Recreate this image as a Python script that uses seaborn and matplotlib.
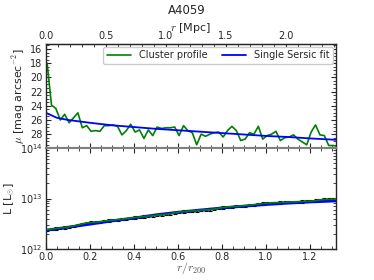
import numpy as np
import pandas as pd
import seaborn as sns
import matplotlib.pyplot as plt
from matplotlib.ticker import AutoMinorLocator, LogLocator, NullFormatter

# cluster profile, sampled every 0.02 r200
r_start = 0.005
r_step = 0.02
mu_profile = [18.0, 23.9, 24.4, 26.0, 25.2, 26.4, 25.7, 25.0, 27.1, 26.8,
              27.6, 27.5, 27.6, 26.8, 26.8, 26.7, 26.9, 28.1, 27.5, 26.6,
              27.7, 27.4, 28.6, 27.4, 28.2, 27.0, 27.2, 27.1, 27.1, 27.0,
              28.2, 26.8, 27.5, 27.8, 29.5, 28.0, 28.3, 28.0, 27.8, 27.7,
              28.4, 27.5, 26.9, 27.5, 28.9, 28.7, 27.8, 28.0, 26.9, 28.7,
              28.2, 28.0, 27.6, 28.9, 28.5, 28.4, 28.1, 28.7, 29.1, 29.5,
              27.7, 26.7, 28.1, 28.2, 29.6, 29.6, 29.7]
# cumulative luminosity [1e12 Lsun]
L_profile = [2.40, 2.47, 2.55, 2.62, 2.68, 2.75, 2.85, 3.00, 3.15, 3.28,
             3.35, 3.40, 3.48, 3.58, 3.66, 3.74, 3.82, 3.90, 4.00, 4.10,
             4.22, 4.30, 4.40, 4.46, 4.55, 4.65, 4.74, 4.85, 5.00, 5.20,
             5.40, 5.52, 5.62, 5.70, 5.78, 5.85, 5.95, 6.05, 6.20, 6.40,
             6.65, 6.78, 6.90, 7.00, 7.10, 7.22, 7.38, 7.55, 7.75, 7.95,
             8.10, 8.20, 8.28, 8.35, 8.42, 8.50, 8.58, 8.65, 8.72, 8.80,
             8.85, 9.10, 9.40, 9.55, 9.62, 9.68, 9.72]
L_err_frac = 0.05

# single Sersic fit
fit_r = [0.0, 0.05, 0.1, 0.2, 0.3, 0.4, 0.5, 0.6, 0.7, 0.8, 0.9, 1.0, 1.1, 1.2, 1.32]
fit_mu = [25.0, 25.7, 26.0, 26.4, 26.75, 27.0, 27.25, 27.45, 27.65, 27.85,
          28.05, 28.25, 28.4, 28.6, 28.8]
fit_L = [2.35, 2.52, 2.7, 3.1, 3.6, 4.1, 4.75, 5.35, 5.9, 6.5, 7.05, 7.6,
         8.1, 8.55, 8.95]

r200_mpc = 1.836

prof = pd.DataFrame({'r': np.round(r_start + r_step * np.arange(len(mu_profile)), 3),
                     'mu': mu_profile,
                     'L': np.array(L_profile) * 1e12})
fit = pd.DataFrame({'r': fit_r, 'mu': fit_mu, 'L': np.array(fit_L) * 1e12})

sns.set_style('ticks')
plt.rcParams['font.family'] = ['DejaVu Sans']
plt.rcParams['mathtext.fontset'] = 'cm'
plt.rcParams['xtick.direction'] = 'in'
plt.rcParams['ytick.direction'] = 'in'
plt.rcParams['xtick.labelsize'] = 7
plt.rcParams['ytick.labelsize'] = 7
plt.rcParams['xtick.major.pad'] = 2
plt.rcParams['ytick.major.pad'] = 2.5

fig = plt.figure(figsize=(3.74, 2.8), dpi=100)
W, H = 374.0, 280.0
x0, x1 = 46 / W, 336 / W
ax1 = fig.add_axes([x0, 1 - 148 / H, x1 - x0, 104 / H])
ax2 = fig.add_axes([x0, 1 - 249 / H, x1 - x0, 101 / H], sharex=ax1)

# top: surface brightness
sns.lineplot(ax=ax1, data=prof, x='r', y='mu', color='green', lw=1.2,
             sort=False, estimator=None, label='Cluster profile')
sns.lineplot(ax=ax1, data=fit, x='r', y='mu', color='blue', lw=1.3,
             sort=False, estimator=None, label='Single Sersic fit')
ax1.set_ylim(29.95, 15.3)
ax1.set_yticks([16, 18, 20, 22, 24, 26, 28])
ax1.set_ylabel(r'$\mu$ [mag arcsec$^{-2}$]', fontsize=8, labelpad=2)
ax1.set_xlabel('')
ax1.tick_params(axis='x', labelbottom=False, top=False)
ax1.tick_params(axis='y', right=True)
ax1.yaxis.set_minor_locator(AutoMinorLocator(4))
ax1.xaxis.set_minor_locator(AutoMinorLocator(4))
ax1.tick_params(which='minor', right=True, length=2)
ax1.legend(loc='upper right', ncol=2, fontsize=7, handlelength=2.5,
           borderpad=0.35, columnspacing=1.5, borderaxespad=0.3, framealpha=1)

sec = ax1.secondary_xaxis('top', functions=(lambda x: x * r200_mpc, lambda x: x / r200_mpc))
sec.set_xlabel(r'$r$ [Mpc]', fontsize=8, labelpad=0.5)
sec.xaxis.set_minor_locator(AutoMinorLocator(5))
sec.tick_params(which='minor', length=2)
sec.tick_params(which='major', pad=2)

# bottom: cumulative luminosity
ax2.errorbar(prof['r'], prof['L'], yerr=prof['L'] * L_err_frac, fmt='none',
             ecolor='black', elinewidth=0.8, capsize=1.5, capthick=0.8, zorder=2)
sns.lineplot(ax=ax2, data=fit, x='r', y='L', color='blue', lw=2.0,
             sort=False, estimator=None, zorder=3)
sns.lineplot(ax=ax2, data=prof, x='r', y='L', color='green', lw=1.2,
             sort=False, estimator=None, zorder=4)
ax2.set_yscale('log')
ax2.set_ylim(1e12, 1e14)
ax2.set_xlim(0, 1.318)
ax2.set_xticks([0.0, 0.2, 0.4, 0.6, 0.8, 1.0, 1.2])
ax2.xaxis.set_minor_locator(AutoMinorLocator(4))
ax2.yaxis.set_minor_locator(LogLocator(subs=np.arange(2, 10)))
ax2.yaxis.set_minor_formatter(NullFormatter())
ax2.tick_params(axis='both', which='both', top=True, right=True)
ax2.tick_params(which='minor', length=2)
ax2.set_ylabel(r'L [L$_{\odot}$]', fontsize=8, labelpad=2)
ax2.set_xlabel(r'$r/r_{200}$', fontsize=8.5, color='#555555')
ax2.xaxis.set_label_coords(0.5, -19 / 101)
ax2.xaxis.label.set_va('center')

for ax in (ax1, ax2):
    for s in ax.spines.values():
        s.set_linewidth(1.0)
ax1.spines['bottom'].set_color('#808080')
ax1.spines['bottom'].set_linewidth(1.5)
ax2.spines['top'].set_color('#808080')
ax2.spines['top'].set_linewidth(1.5)

fig.text(0.5, 1 - 10 / H, 'A4059', ha='center', va='center', fontsize=8.5)

fig.savefig('out.png', dpi=100)
